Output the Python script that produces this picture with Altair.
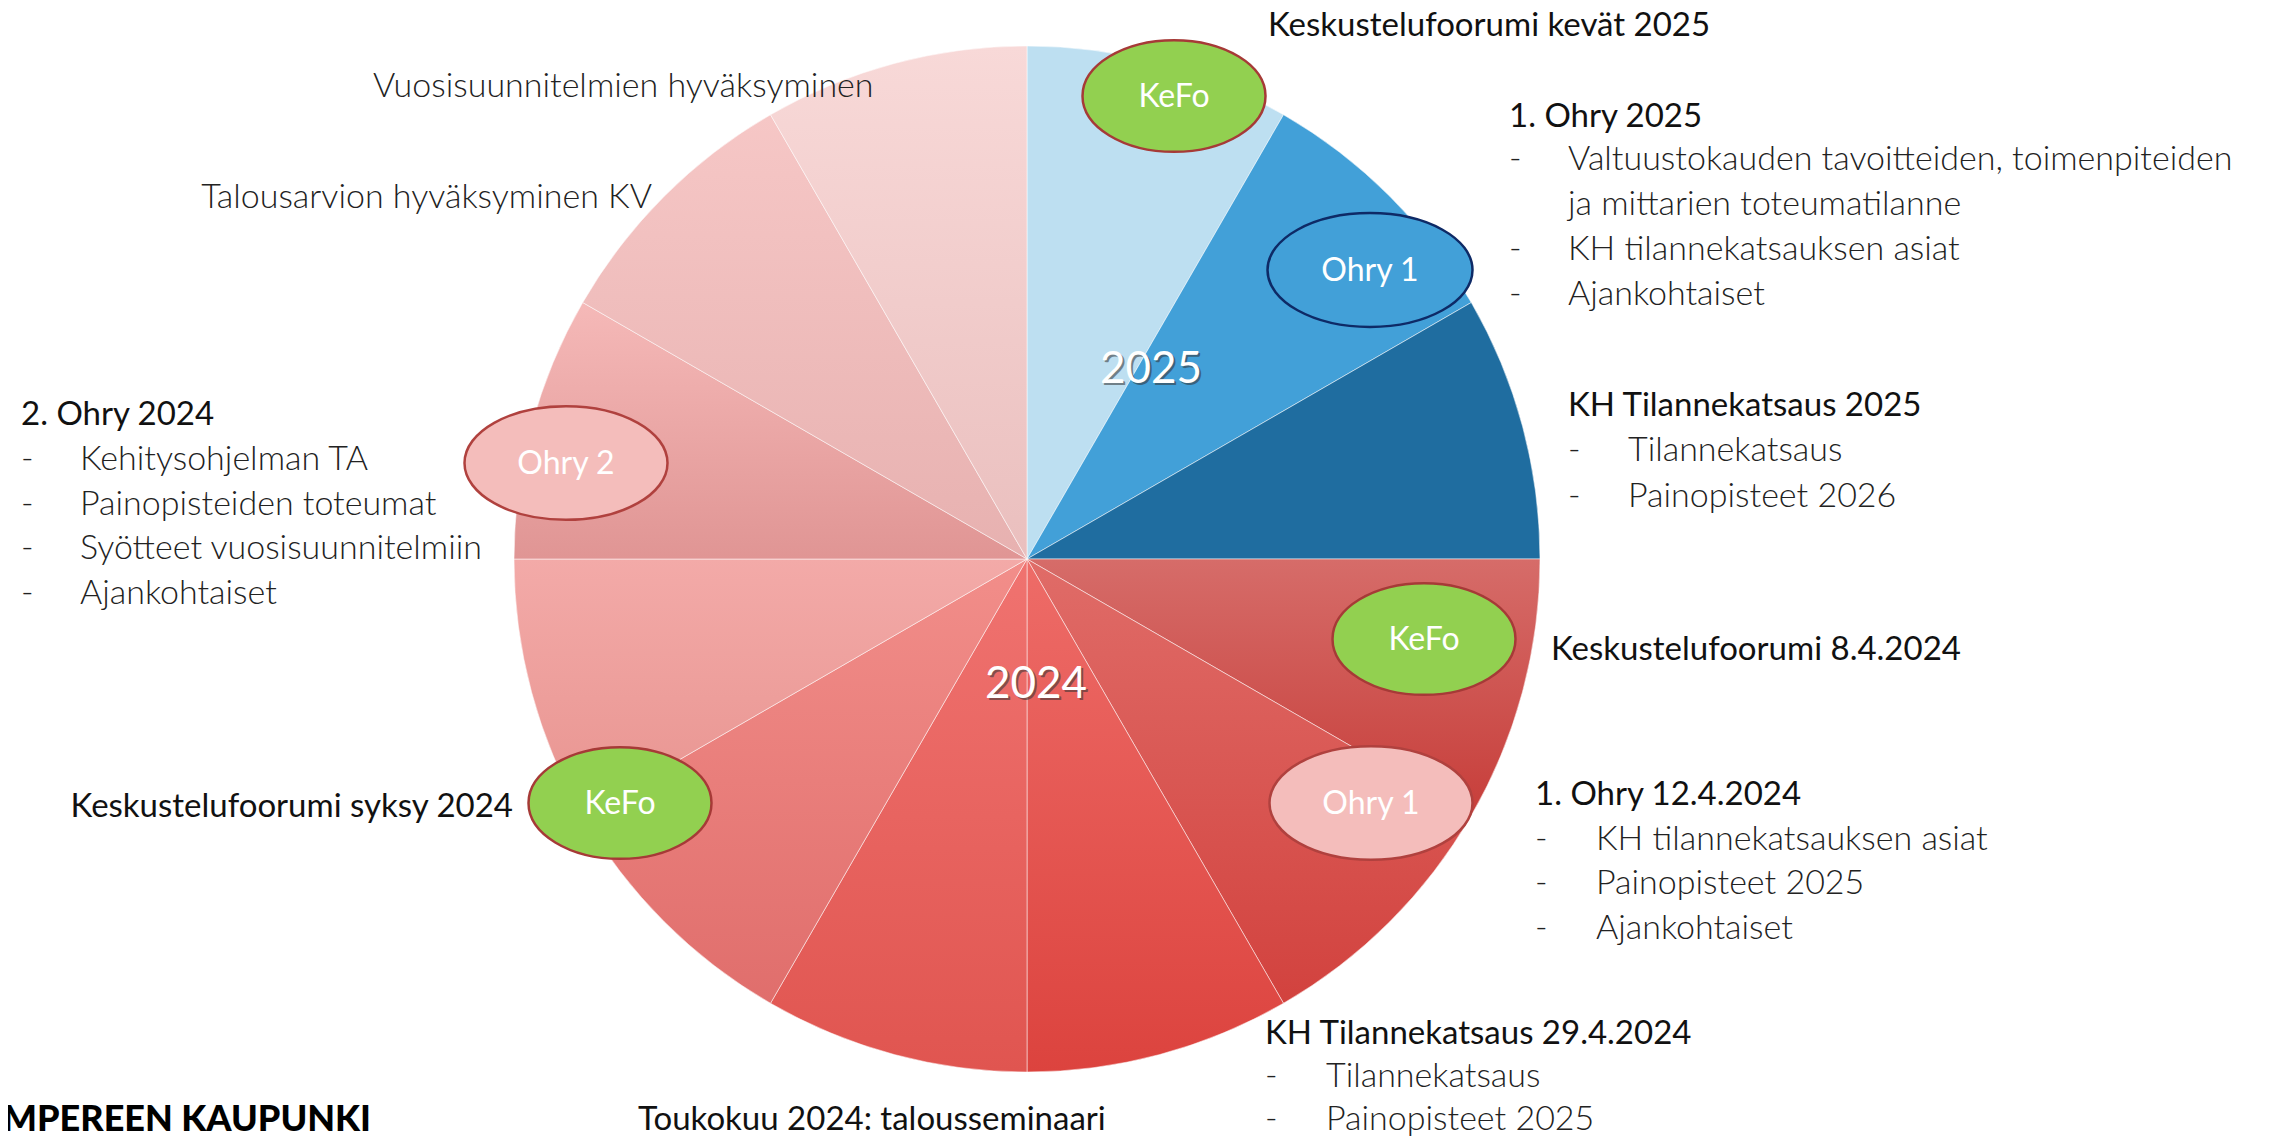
import math
import altair as alt
import pandas as pd

# ------------------------------------------------------------------ data
slice_ids = list(range(1, 13))          # 12 equal segments, clockwise from 12 o'clock
slice_values = [1] * 12

year_labels = ["2025", "2024"]

ellipse_labels = ["KeFo", "Ohry 1", "KeFo", "Ohry 1", "KeFo", "Ohry 2"]
ellipse_kinds = ["kefo", "ohry_blue", "kefo", "ohry_pink", "kefo", "ohry_pink"]

heading_left = ["Keskustelufoorumi kevät 2025", "1. Ohry 2025", "KH Tilannekatsaus 2025",
                "Keskustelufoorumi 8.4.2024", "1. Ohry 12.4.2024", "KH Tilannekatsaus 29.4.2024",
                "2. Ohry 2024", "Toukokuu 2024: talousseminaari"]
heading_right = ["Keskustelufoorumi syksy 2024"]

body_left = ["Vuosisuunnitelmien hyväksyminen",
             "Valtuustokauden tavoitteiden, toimenpiteiden", "ja mittarien toteumatilanne",
             "KH tilannekatsauksen asiat", "Ajankohtaiset",
             "Tilannekatsaus", "Painopisteet 2026",
             "KH tilannekatsauksen asiat", "Painopisteet 2025", "Ajankohtaiset",
             "Tilannekatsaus", "Painopisteet 2025",
             "Kehitysohjelman TA", "Painopisteiden toteumat", "Syötteet vuosisuunnitelmiin", "Ajankohtaiset"]
body_right = ["Talousarvion hyväksyminen KV"]
logo_text = ["TAMPEREEN KAUPUNKI"]

# ------------------------------------------------------------------ layout / style
W, H = 2264, 1130
CX, CY, R = 1027, 559, 513

slice_top = ["#BDDFF1", "#42A0D8", "#1F6DA0", "#D66C69", "#E06C68", "#EE6C68",
             "#F07370", "#F28E8A", "#F3AAA8", "#F5B9B8", "#F6C7C6", "#F8D9D8"]
slice_bot = ["#BDDFF1", "#42A0D8", "#1F6DA0", "#C73E3A", "#D2423E", "#DC433E",
             "#E05550", "#E06E6C", "#E89490", "#E09594", "#E7B1B0", "#EABFBE"]

year_pos = [(1151, 383), (1036, 698)]
ellipse_pos = [(1174, 96), (1370, 270), (1424, 639), (1371, 803), (620, 803), (566, 463)]
heading_left_pos = [(1268, 36), (1509, 127), (1568, 416), (1551, 660), (1535, 805),
                    (1265, 1044), (21, 425), (638, 1130)]
heading_right_pos = [(513, 817)]
body_left_pos = [(373, 97),
                 (1568, 170), (1568, 215), (1568, 260), (1568, 305),
                 (1628, 461), (1628, 507),
                 (1596, 850), (1596, 894), (1596, 939),
                 (1326, 1087), (1326, 1130),
                 (80, 470), (80, 515), (80, 559), (80, 604)]
body_right_pos = [(652, 208)]
dash_pos = [(1509, 170), (1509, 260), (1509, 305),
            (1568, 461), (1568, 507),
            (1535, 850), (1535, 894), (1535, 939),
            (1265, 1087), (1265, 1130),
            (21, 470), (21, 515), (21, 559), (21, 604)]
logo_pos = [(371, 1131)]

xs = alt.Scale(domain=[8, 8 + W], nice=False, zero=False)
ys = alt.Scale(domain=[8, 8 + H], reverse=True, nice=False, zero=False)


def pos_df(labels, pos, **extra):
    d = {"label": labels, "x": [p[0] for p in pos], "y": [p[1] for p in pos]}
    d.update(extra)
    return pd.DataFrame(d)


def xy():
    return dict(x=alt.X("x:Q", scale=xs, axis=None), y=alt.Y("y:Q", scale=ys, axis=None))


def ellipse_path(ratio):
    k = 0.5523
    r = ratio
    return (f"M -1 0 C -1 {-r*k:.4f} {-k:.4f} {-r:.4f} 0 {-r:.4f} "
            f"C {k:.4f} {-r:.4f} 1 {-r*k:.4f} 1 0 "
            f"C 1 {r*k:.4f} {k:.4f} {r:.4f} 0 {r:.4f} "
            f"C {-k:.4f} {r:.4f} -1 {r*k:.4f} -1 0 Z")


layers = []

# ------------------------------------------------------------------ pie
pie_df = pd.DataFrame({"slice": slice_ids, "value": slice_values})
pie_base = (alt.Chart(pie_df)
            .transform_joinaggregate(total="sum(value)")
            .transform_window(cum="sum(value)", sort=[alt.SortField("slice", order="ascending")],
                              frame=[None, 0])
            .transform_calculate(start="(datum.cum - datum.value) / datum.total",
                                 end="datum.cum / datum.total"))
for i, sid in enumerate(slice_ids):
    grad = {"gradient": "linear", "x1": 0, "y1": 0, "x2": 0, "y2": 1,
            "stops": [{"offset": 0, "color": slice_top[i]},
                      {"offset": 1, "color": slice_bot[i]}]}
    layers.append(
        pie_base.transform_filter(alt.datum.slice == sid)
        .mark_arc(fill=grad, stroke="white", strokeWidth=1, strokeOpacity=0.5, radius=R)
        .encode(theta=alt.Theta("start:Q", scale=alt.Scale(domain=[0, 1]), stack=None),
                theta2="end:Q",
                x=alt.value(CX - 8), y=alt.value(CY - 8))
    )

# ------------------------------------------------------------------ year labels
year_df = pos_df(year_labels, year_pos)
layers.append(alt.Chart(year_df).mark_text(font="Lato", fontSize=44, color="#333333", opacity=0.55,
                                           align="center", baseline="alphabetic", dx=2, dy=2)
              .encode(text="label:N", **xy()))
layers.append(alt.Chart(year_df).mark_text(font="Lato", fontSize=44, color="white",
                                           align="center", baseline="alphabetic")
              .encode(text="label:N", **xy()))

# ------------------------------------------------------------------ ellipses
ell_df = pos_df(ellipse_labels, ellipse_pos, kind=ellipse_kinds)
ell_styles = {
    "kefo": dict(fill="#92D050", stroke="#A63A37", shape=ellipse_path(0.61), size=183 ** 2),
    "ohry_blue": dict(fill="#42A0D8", stroke="#0E2A66", shape=ellipse_path(0.555), size=205 ** 2),
    "ohry_pink": dict(fill="#F4BDBB", stroke="#B0413E", shape=ellipse_path(0.56), size=203 ** 2),
}
for kind, st in ell_styles.items():
    layers.append(
        alt.Chart(ell_df).transform_filter(alt.datum.kind == kind)
        .mark_point(filled=True, fill=st["fill"], stroke=st["stroke"], strokeWidth=2.5,
                    opacity=1, fillOpacity=1, shape=st["shape"], size=st["size"])
        .encode(**xy())
    )
layers.append(alt.Chart(ell_df).mark_text(font="Lato", fontSize=32, color="white",
                                          align="center", baseline="alphabetic", dy=11)
              .encode(text="label:N", **xy()))

# ------------------------------------------------------------------ texts
layers.append(alt.Chart(pos_df(heading_left, heading_left_pos))
              .mark_text(font="Lato", fontSize=33, color="#111111", align="left", baseline="alphabetic")
              .encode(text="label:N", **xy()))
layers.append(alt.Chart(pos_df(heading_right, heading_right_pos))
              .mark_text(font="Lato", fontSize=33, color="#111111", align="right", baseline="alphabetic")
              .encode(text="label:N", **xy()))
layers.append(alt.Chart(pos_df(body_left, body_left_pos))
              .mark_text(font="Lato", fontWeight=300, fontSize=34, color="#222222", align="left",
                         baseline="alphabetic")
              .encode(text="label:N", **xy()))
layers.append(alt.Chart(pos_df(body_right, body_right_pos))
              .mark_text(font="Lato", fontWeight=300, fontSize=34, color="#222222", align="right",
                         baseline="alphabetic")
              .encode(text="label:N", **xy()))
layers.append(alt.Chart(pos_df(["-"] * len(dash_pos), dash_pos))
              .mark_text(font="Lato", fontWeight=300, fontSize=34, color="#222222", align="left",
                         baseline="alphabetic")
              .encode(text="label:N", **xy()))
layers.append(alt.Chart(pos_df(logo_text, logo_pos))
              .mark_text(font="Lato", fontWeight=900, fontSize=36, color="#000000", align="right",
                         baseline="alphabetic")
              .encode(text="label:N", **xy()))

chart = (alt.layer(*layers)
         .properties(width=W, height=H, padding=0, autosize="none", background="white")
         .configure_view(stroke=None))

chart.save("out.html", embed_options={"renderer": "svg", "actions": False})
